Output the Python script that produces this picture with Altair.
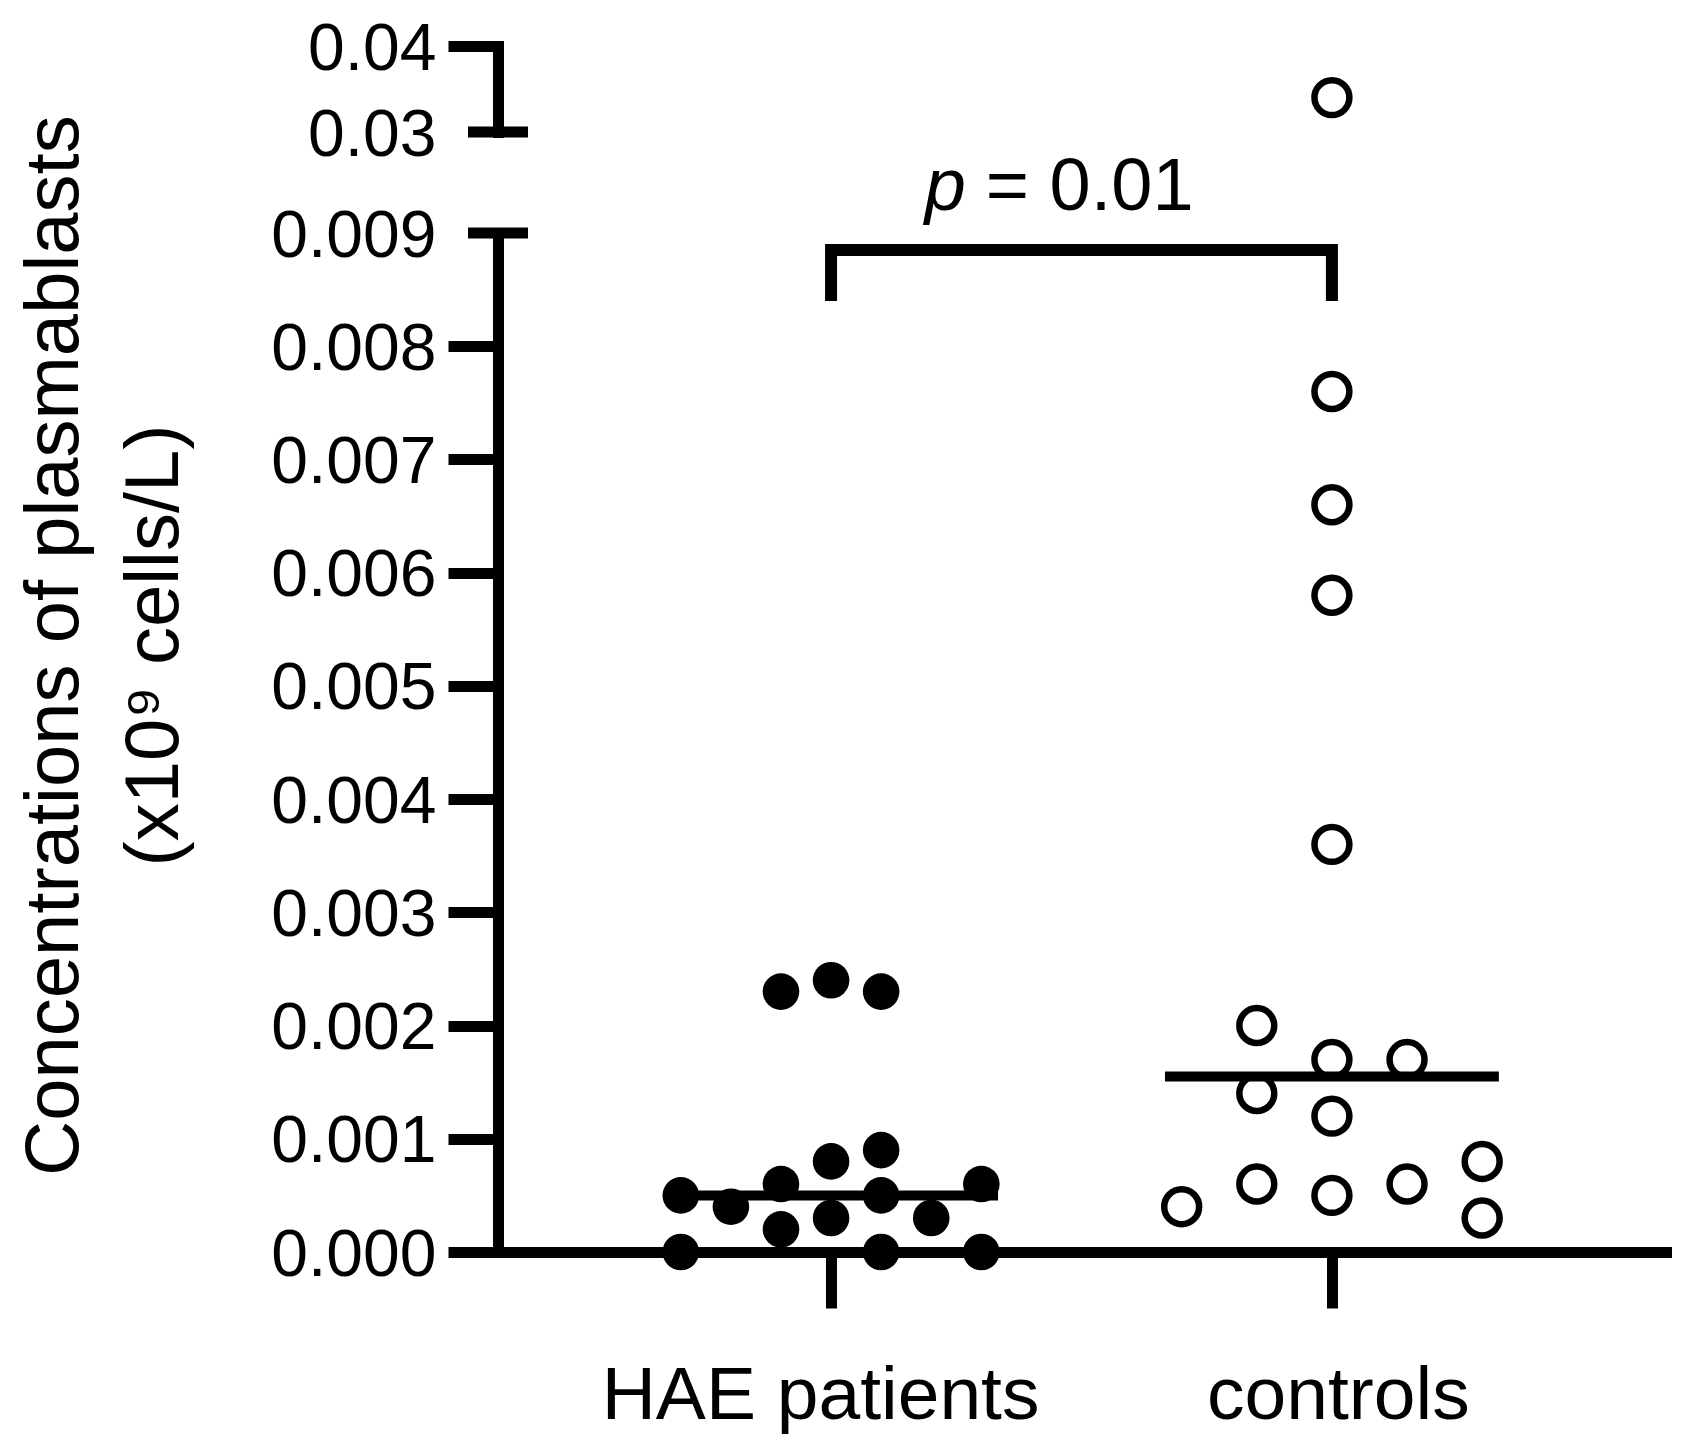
import altair as alt
import pandas as pd

FONT = "Liberation Sans"

# ---- data ----
groups = ["HAE patients", "controls"]

hae_values = [0.0023, 0.0024, 0.0023, 0.0005, 0.0004, 0.0006, 0.0008, 0.0009,
              0.0005, 0.0006, 0.0002, 0.0003, 0.0003, 0.0000, 0.0000, 0.0000]
hae_slots = [-0.1, 0.0, 0.1, -0.3, -0.2, -0.1, 0.0, 0.1,
             0.1, 0.3, -0.1, 0.0, 0.2, -0.3, 0.1, 0.3]

ctrl_values = [0.034, 0.0076, 0.0066, 0.0058, 0.0036, 0.0020, 0.0017, 0.0017,
               0.0014, 0.0012, 0.0008, 0.0006, 0.0006, 0.0005, 0.0004, 0.0003]
ctrl_slots = [0.0, 0.0, 0.0, 0.0, 0.0, -0.15, 0.0, 0.15,
              -0.15, 0.0, 0.3, -0.15, 0.15, 0.0, -0.3, 0.3]

lower_ticks = [0.000, 0.001, 0.002, 0.003, 0.004, 0.005, 0.006, 0.007, 0.008, 0.009]
upper_ticks = [0.03, 0.04]

y_title = ["Concentrations of plasmablasts", "(x10\u2079 cells/L)"]

bracket_x = [0, 0, 1, 1]
bracket_y = [0.0084, 0.00885, 0.00885, 0.0084]
p_text_x = [0.309]
p_text_y = [0.0092]
p_symbol = ["p"]
p_rest = ["= 0.01"]

median_half = 1 / 3

# ---- tables ----
df = pd.DataFrame({
    "group": [groups[0]] * len(hae_values) + [groups[1]] * len(ctrl_values),
    "gidx": [0] * len(hae_values) + [1] * len(ctrl_values),
    "slot": hae_slots + ctrl_slots,
    "value": hae_values + ctrl_values,
})
df["xpos"] = df["gidx"] + df["slot"]
df_hae = df[df["gidx"] == 0]
df_ctrl_low = df[(df["gidx"] == 1) & (df["value"] <= 0.009)]
df_ctrl_high = df[(df["gidx"] == 1) & (df["value"] >= 0.03)]

bracket_df = pd.DataFrame({"x": bracket_x, "y": bracket_y, "o": list(range(len(bracket_x)))})
ptext_df = pd.DataFrame({"x": p_text_x, "y": p_text_y, "p": p_symbol, "rest": p_rest})
cap_low_df = pd.DataFrame({"v": [lower_ticks[-1]]})
cap_high_df = pd.DataFrame({"v": [upper_ticks[0]]})

# ---- scales / axes ----
W = 1174
H_LOW = 1019
H_HIGH = 86
LW = 11

x_scale = alt.Scale(domain=[-0.665, 1.679], nice=False, zero=False)
y_low_scale = alt.Scale(domain=[lower_ticks[0], lower_ticks[-1]], nice=False, zero=False)
y_high_scale = alt.Scale(domain=[upper_ticks[0], upper_ticks[-1]], nice=False, zero=False)

x_axis = alt.Axis(
    values=[0, 1],
    labelExpr=f"datum.value == 0 ? '{groups[0]}' : '{groups[1]}'",
    title=None, tickSize=56, tickWidth=LW, domainWidth=LW,
    labelFontSize=75, labelPadding=51, labelFlush=False, labelOverlap=False,
    labelBound=False, labelLimit=2000, domainCap="butt", grid=False,
    labelOffset={"condition": {"test": "datum.value < 0.5", "value": -11}, "value": 6},
)

y_low_axis = alt.Axis(
    values=lower_ticks, format=".3f", title=y_title,
    titleFontSize=76, titleFontWeight="normal", titleLineHeight=100,
    titleX=-421, titleY=412, titleAngle=270, titleBaseline="alphabetic", titleAlign="center",
    titleLimit=3000,
    tickSize=50, tickWidth=LW, domainWidth=LW, domainCap="square",
    labelFontSize=66, labelPadding=12, labelOffset=3, labelFlush=False, labelOverlap=False,
    tickOpacity={"condition": {"test": "datum.value > 0.0085", "value": 0}, "value": 1},
    grid=False,
)

y_high_axis = alt.Axis(
    values=upper_ticks, format=".2f", title=None,
    tickSize=50, tickWidth=LW, domainWidth=LW, domainCap="square",
    labelFontSize=66, labelPadding=12, labelOffset=3, labelFlush=False, labelOverlap=False,
    tickOpacity={"condition": {"test": "datum.value < 0.035", "value": 0}, "value": 1},
    grid=False,
)


def X(field, axis):
    return alt.X(field, scale=x_scale, axis=axis, title=None)


def YL(field):
    return alt.Y(field, scale=y_low_scale, axis=y_low_axis, title=y_title)


def YH(field):
    return alt.Y(field, scale=y_high_scale, axis=y_high_axis, title=None)


# ---- lower panel ----
hae_pts = alt.Chart(df_hae).mark_circle(size=1340, color="black", opacity=1).encode(
    x=X("xpos:Q", x_axis), y=YL("value:Q"),
)

ctrl_pts_low = alt.Chart(df_ctrl_low).mark_point(
    shape="circle", size=1220, strokeWidth=6.5, filled=False, color="black", opacity=1
).encode(x=X("xpos:Q", x_axis), y=YL("value:Q"))

medians = alt.Chart(df).transform_aggregate(
    med="median(value)", groupby=["gidx"]
).transform_calculate(
    x1=f"datum.gidx - {median_half}", x2=f"datum.gidx + {median_half}"
).mark_rule(color="black", strokeWidth=10).encode(
    x=X("x1:Q", x_axis), x2="x2:Q", y=YL("med:Q"),
)

bracket = alt.Chart(bracket_df).mark_line(
    color="black", strokeWidth=12, strokeJoin="miter", strokeCap="butt"
).encode(x=X("x:Q", x_axis), y=YL("y:Q"), order="o:Q")

p_sym = alt.Chart(ptext_df).mark_text(
    align="right", baseline="alphabetic", dx=-20, fontSize=74, font=FONT,
    fontStyle="italic", color="black"
).encode(x=X("x:Q", x_axis), y=YL("y:Q"), text="p:N")

p_val = alt.Chart(ptext_df).mark_text(
    align="left", baseline="alphabetic", fontSize=74, font=FONT, color="black"
).encode(x=X("x:Q", x_axis), y=YL("y:Q"), text="rest:N")

cap_low = alt.Chart(cap_low_df).mark_rule(color="black", strokeWidth=LW).encode(
    y=YL("v:Q"), x=alt.value(-30), x2=alt.value(30),
)

lower = alt.layer(hae_pts, ctrl_pts_low, medians, bracket, p_sym, p_val, cap_low).properties(
    width=W, height=H_LOW
)

# ---- upper panel ----
ctrl_pts_high = alt.Chart(df_ctrl_high).mark_point(
    shape="circle", size=1220, strokeWidth=6.5, filled=False, color="black", opacity=1
).encode(x=X("xpos:Q", None), y=YH("value:Q"))

cap_high = alt.Chart(cap_high_df).mark_rule(color="black", strokeWidth=LW).encode(
    y=YH("v:Q"), x=alt.value(-30), x2=alt.value(30),
)

upper = alt.layer(ctrl_pts_high, cap_high).properties(width=W, height=H_HIGH)

chart = alt.vconcat(upper, lower, spacing=101, bounds="flush").resolve_scale(
    x="independent", y="independent"
).properties(
    padding={"left": 8, "top": 8, "right": 0, "bottom": 2}, background="white"
).configure_view(strokeWidth=0).configure_axis(
    labelFont=FONT, titleFont=FONT, labelColor="black", titleColor="black",
    domainColor="black", tickColor="black",
)

chart.save("out.html", embed_options={"renderer": "svg", "actions": False})
